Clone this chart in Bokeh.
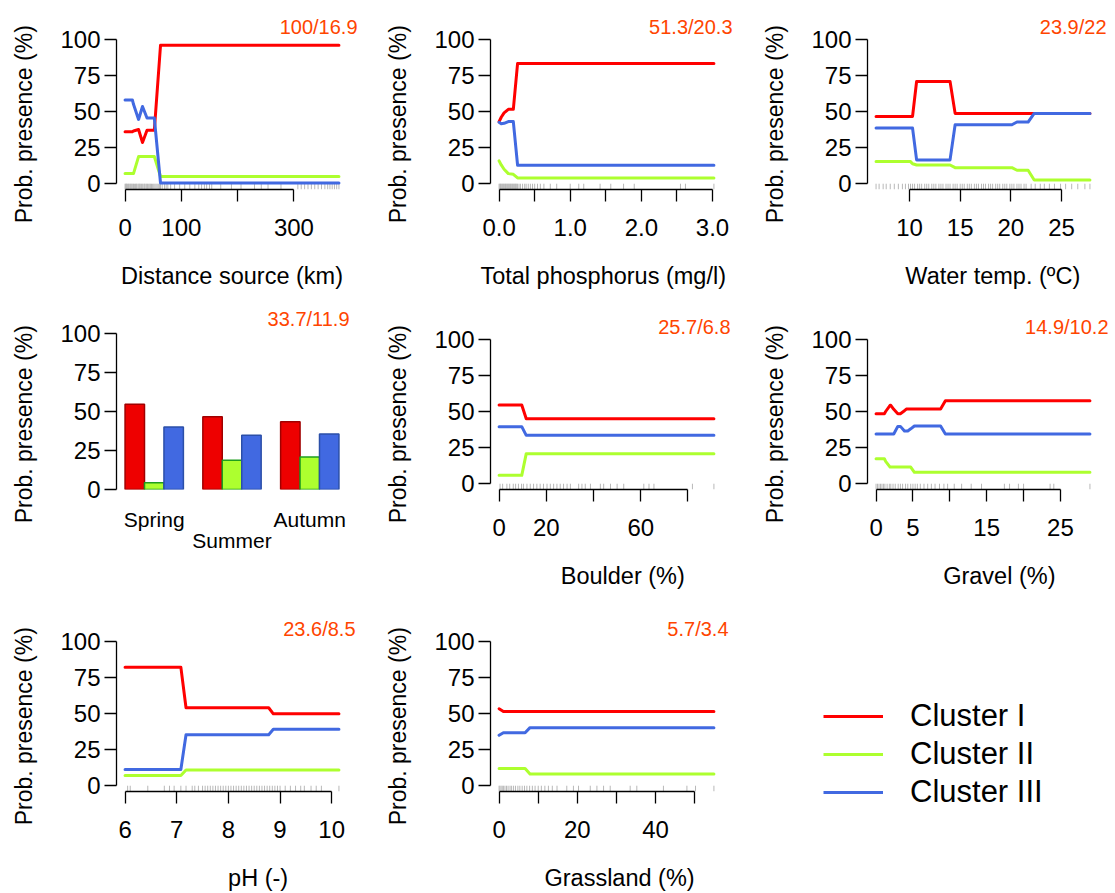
from bokeh.plotting import figure
from bokeh.models import Range1d, FixedTicker, Legend, LegendItem, LinearAxis, Title
from bokeh.layouts import column, row
from bokeh.embed import file_html
from bokeh.resources import INLINE

RED, GREEN, BLUE = "#FF0000", "#ADFF2F", "#4169E1"
ORANGE = "#FF4500"
FONT = "Liberation Sans"
NB = "\u00a0"
cluster_names = ["Cluster I", "Cluster II", "Cluster III"]
y_label = "Prob. presence (%)"

# ---------------- data ----------------
# Panel 1: distance to source (km)
dist_x = [0, 13, 15, 24, 31, 39, 52, 63, 380]
dist_c1 = [36, 36, 36.5, 37.5, 28.5, 37, 37, 95.8, 95.8]
dist_c2 = [7, 7, 7, 18.8, 18.8, 18.8, 18.8, 5, 5]
dist_c3 = [58, 58, 55, 44.5, 53.5, 45.5, 45.5, 0.5, 0.5]
dist_rug = [0, 1, 2.5, 3, 4.5, 6, 7, 8.5, 10, 11, 12.5, 14, 15, 17, 18.5, 20, 21, 23,
            24.5, 26, 27, 29, 30.5, 32, 34, 35, 37, 38.5, 40, 42, 44, 45, 47, 49, 51,
            53, 55, 57, 59, 61, 63, 66, 70, 73, 76, 81, 88, 97, 106, 115, 124, 131,
            136, 141, 145, 150, 154, 170, 189, 206, 230, 242, 254, 277, 307, 313, 319,
            325, 331, 337, 343, 349, 355, 360, 364, 368, 372, 376, 380]
dist_ticks = [0, 100, 200, 300]
dist_labels = ["0", "100", "", "300"]

# Panel 2: total phosphorus (mg/l)
tp_x = [0, 0.03, 0.07, 0.13, 0.20, 0.26, 3.02]
tp_c1 = [43, 46, 49, 51.5, 51.5, 83.3, 83.3]
tp_c2 = [15.8, 13, 10, 7, 6.5, 4, 4]
tp_c3 = [42.5, 41.5, 41.8, 43, 43, 12.8, 12.8]
tp_rug = [0, 0.01, 0.02, 0.03, 0.04, 0.05, 0.06, 0.07, 0.08, 0.09, 0.1, 0.11, 0.12,
          0.13, 0.14, 0.15, 0.16, 0.17, 0.18, 0.19, 0.2, 0.21, 0.22, 0.23, 0.24, 0.25,
          0.26, 0.28, 0.3, 0.33, 0.36, 0.38, 0.41, 0.44, 0.47, 0.5, 0.54, 0.58, 0.63,
          0.72, 0.81, 1.0, 1.12, 1.19, 1.42, 1.57, 1.75, 1.9, 2.55, 2.62, 3.02]
tp_ticks = [0, 0.5, 1.0, 1.5, 2.0, 2.5, 3.0]
tp_labels = ["0.0", "", "1.0", "", "2.0", "", "3.0"]

# Panel 3: water temperature (ºC)
wt_x = [6.7, 10.1, 10.3, 10.7, 14.0, 14.5, 20.1, 20.6, 21.7, 22.3, 27.8]
wt_c1 = [46.6, 46.6, 46.6, 70.8, 70.8, 48.7, 48.7, 48.7, 48.7, 48.7, 48.7]
wt_c2 = [15.3, 15.3, 13.8, 13, 13, 11.1, 11.1, 9.3, 9.3, 2.6, 2.6]
wt_c3 = [38.5, 38.5, 38.5, 16.5, 16.5, 40.8, 40.8, 42.7, 42.7, 48.7, 48.7]
wt_rug = [6.7, 7.0, 7.4, 7.7, 8.1, 8.5, 8.9, 9.3, 9.6, 9.9, 10.1, 10.3, 10.5, 10.8,
          11.0, 11.2, 11.5, 11.7, 11.9, 12.2, 12.4, 12.6, 12.9, 13.1, 13.3, 13.6, 13.8,
          14.0, 14.3, 14.5, 14.7, 15.0, 15.2, 15.4, 15.7, 15.9, 16.1, 16.4, 16.6, 16.8,
          17.1, 17.3, 17.5, 17.8, 18.0, 18.2, 18.5, 18.7, 18.9, 19.2, 19.4, 19.6, 19.9,
          20.1, 20.3, 20.6, 20.8, 21.0, 21.3, 21.5, 22.0, 22.4, 22.9, 23.3, 23.8, 24.3,
          24.9, 25.4, 26.0, 26.6, 27.3, 27.8]
wt_ticks = [10, 15, 20, 25]
wt_labels = ["10", "15", "20", "25"]

# Panel 4: season (bars)
seasons = ["Spring", "Summer", "Autumn"]
season_c1 = [54.7, 46.6, 43.4]
season_c2 = [4.3, 18.7, 20.8]
season_c3 = [40.1, 34.8, 35.6]

# Panel 5: boulder (%)
bo_x = [0, 9.6, 11.5, 91]
bo_c1 = [54.5, 54.5, 45, 45]
bo_c2 = [5.8, 5.8, 20.8, 20.8]
bo_c3 = [39.5, 39.5, 33.5, 33.5]
bo_rug = [0.4, 1.5, 3.3, 4.5, 6, 7, 8.2, 9.5, 10.3, 11.8, 13.2, 14.6, 16, 17.4, 18.8,
          20.3, 21.7, 23.1, 24.5, 25.9, 27.3, 28.8, 30.2, 33.7, 35.1, 36.5, 38.7, 42.9,
          44.3, 47.2, 50, 52.8, 61.3, 63.5, 65.6, 81.9, 91]
bo_ticks = [0, 20, 40, 60, 80]
bo_labels = ["0", "20", "", "60", ""]

# Panel 6: gravel (%)
gr_x = [0, 1.13, 1.3, 1.9, 2.0, 2.4, 2.95, 3.3, 3.85, 4.1, 4.3, 4.7, 5.2, 8.75, 9.4, 29]
gr_c1 = [48.5, 48.5, 50, 54.3, 54.3, 51.5, 48.5, 48.5, 50.5, 51.7, 51.7, 51.7, 51.7, 51.7, 57.5, 57.5]
gr_c2 = [17.3, 17.3, 15.5, 11.5, 11.5, 11.5, 11.5, 11.5, 11.5, 11.5, 11.5, 11.5, 7.9, 7.9, 7.9, 7.9]
gr_c3 = [34.4, 34.4, 34.4, 34.4, 34.4, 34.4, 39.7, 39.7, 36.5, 36.5, 36.5, 38, 40, 40, 34.4, 34.4]
gr_rug = [0, 0.2, 0.4, 0.6, 0.8, 1, 1.2, 1.5, 1.8, 2, 2.3, 2.6, 3, 3.3, 3.6, 4, 4.3,
          4.7, 5, 5.3, 5.6, 6, 6.5, 7, 7.5, 8, 8.6, 9.2, 9.7, 10.6, 11.6, 12.9, 14.3,
          17.4, 18.1, 19.3, 20, 23.6, 24.1, 29]
gr_ticks = [0, 5, 10, 15, 20, 25]
gr_labels = ["0", "5", "", "15", "", "25"]

# Panel 7: pH (-)
ph_x = [6.0, 7.08, 7.18, 8.78, 8.87, 10.14]
ph_c1 = [82.1, 82.1, 54, 54, 49.8, 49.8]
ph_c2 = [7, 7, 10.9, 10.9, 10.9, 10.9]
ph_c3 = [11.2, 11.2, 35.3, 35.3, 39.1, 39.1]
ph_rug = [6.05, 6.1, 6.44, 6.76, 6.86, 6.95, 7.08, 7.18, 7.3, 7.35, 7.42, 7.5, 7.55,
          7.6, 7.65, 7.7, 7.75, 7.8, 7.85, 7.9, 7.95, 8.0, 8.05, 8.1, 8.15, 8.2, 8.25,
          8.3, 8.35, 8.4, 8.45, 8.5, 8.55, 8.6, 8.65, 8.7, 8.75, 8.8, 8.85, 8.9, 8.95,
          9.0, 9.1, 9.2, 9.3, 9.4, 9.47, 9.6, 9.7, 9.8, 10.14]
ph_ticks = [6, 7, 8, 9, 10]
ph_labels = ["6", "7", "8", "9", "10"]

# Panel 8: grassland (%)
gl_x = [0, 1.1, 6.65, 7.9, 54.9]
gl_c1 = [53.3, 51.4, 51.4, 51.4, 51.4]
gl_c2 = [11.9, 11.9, 11.9, 8.1, 8.1]
gl_c3 = [34.9, 36.7, 36.7, 40.2, 40.2]
gl_rug = [0, 0.2, 0.5, 0.8, 1.1, 1.5, 1.9, 2.3, 2.8, 3.2, 3.7, 4.2, 4.8, 5.3, 5.9,
          6.5, 7.1, 7.8, 8.5, 9.2, 10, 10.8, 11.7, 12.6, 13.6, 14.8, 17.3, 19, 20.3,
          23.3, 25, 26.7, 28.4, 33.5, 35.2, 42, 48, 50.2, 54.9]
gl_ticks = [0, 10, 20, 30, 40, 50]
gl_labels = ["0", "", "20", "", "40", ""]

y_ticks = [0, 25, 50, 75, 100]

# ---------------- layout ----------------
COL_W = [370, 375, 370]
COL_L = [116, 120, 122]
COL_FW = [231, 232, 231]
ROW_H = [300, 300, 293]
ROW_T = [33, 33, 35]
FH = 156


def no_align(p):
    try:
        p.frame_align = False
    except Exception:
        pass


def base_fig(c, r, x_range, y_range):
    p = figure(width=COL_W[c], height=ROW_H[r], x_range=x_range, y_range=y_range,
               output_backend="svg", toolbar_location=None, title=None,
               min_border_left=COL_L[c], min_border_right=COL_W[c] - COL_L[c] - COL_FW[c],
               min_border_top=ROW_T[r], min_border_bottom=ROW_H[r] - ROW_T[r] - FH)
    no_align(p)
    p.outline_line_color = None
    p.xgrid.visible = False
    p.ygrid.visible = False
    p.background_fill_color = "white"
    p.border_fill_color = "white"
    return p


def style_axis(ax, ticks, labels):
    ax.ticker = FixedTicker(ticks=ticks)
    ax.bounds = (ticks[0], ticks[-1])
    ax.major_label_overrides = {float(t): l for t, l in zip(ticks, labels)}
    ax.major_tick_out = 12
    ax.major_tick_in = 0
    ax.minor_tick_line_color = None
    ax.axis_line_width = 1.3
    ax.major_tick_line_width = 1.3
    ax.axis_line_color = "black"
    ax.major_tick_line_color = "black"
    ax.major_label_text_font = FONT
    ax.major_label_text_font_size = "24px"
    ax.major_label_text_color = "black"
    ax.axis_label_text_font = FONT
    ax.axis_label_text_font_size = "23.5px"
    ax.axis_label_text_font_style = "normal"
    ax.axis_label_text_color = "black"


def add_title(p, stat, dx, standoff):
    p.add_layout(Title(text=stat, align="right", offset=-dx, standoff=standoff,
                       text_font=FONT, text_font_size="20px", text_font_style="normal",
                       text_color=ORANGE), "above")


def style_y(p):
    style_axis(p.yaxis[0], y_ticks, [str(t) for t in y_ticks])
    p.yaxis.major_label_standoff = 4
    # the reference sets this label a little downward: pad its upper end
    p.yaxis.axis_label = y_label + NB * 4
    p.yaxis.axis_label_text_font_size = "23px"
    p.yaxis.axis_label_standoff = 20


def line_panel(c, r, xs, c1, c2, c3, rug, ticks, labels, stat, stat_dx,
               xlabel, shift):
    lo, hi = min(xs), max(xs)
    pad = 0.04 * (hi - lo)
    p = base_fig(c, r, Range1d(lo - pad, hi + pad), Range1d(-4, 104))
    style_axis(p.xaxis[0], ticks, labels)
    p.xaxis.major_label_standoff = 17
    p.xaxis.axis_label = (NB * shift if shift > 0 else "") + xlabel + (NB * -shift if shift < 0 else "")
    p.xaxis.axis_label_standoff = 24
    style_y(p)
    p.segment(x0=rug, x1=rug, y0=[-4] * len(rug), y1=[0] * len(rug),
              line_color="#B8B8B8", line_width=1)
    for vals, col in ((c1, RED), (c2, GREEN), (c3, BLUE)):
        p.line(xs, vals, line_color=col, line_width=3, line_join="round", line_cap="round")
    add_title(p, stat, stat_dx, -8)
    return p


p1 = line_panel(0, 0, dist_x, dist_c1, dist_c2, dist_c3, dist_rug, dist_ticks, dist_labels,
                "100/16.9", 10, "Distance source (km)", 0)
p2 = line_panel(1, 0, tp_x, tp_c1, tp_c2, tp_c3, tp_rug, tp_ticks, tp_labels,
                "51.3/20.3", 10, "Total phosphorus (mg/l)", -1)
p3 = line_panel(2, 0, wt_x, wt_c1, wt_c2, wt_c3, wt_rug, wt_ticks, wt_labels,
                "23.9/22", 8, "Water temp. (ºC)", 3)
p5 = line_panel(1, 1, bo_x, bo_c1, bo_c2, bo_c3, bo_rug, bo_ticks, bo_labels,
                "25.7/6.8", 8, "Boulder (%)", 5)
p6 = line_panel(2, 1, gr_x, gr_c1, gr_c2, gr_c3, gr_rug, gr_ticks, gr_labels,
                "14.9/10.2", 10, "Gravel (%)", 5)
p7 = line_panel(0, 2, ph_x, ph_c1, ph_c2, ph_c3, ph_rug, ph_ticks, ph_labels,
                "23.6/8.5", 8, "pH (-)", 8)
p8 = line_panel(1, 2, gl_x, gl_c1, gl_c2, gl_c3, gl_rug, gl_ticks, gl_labels,
                "5.7/3.4", 6, "Grassland (%)", 4)

# ---- bar panel (season) ----
p4 = base_fig(0, 1, Range1d(0.56, 12.44), Range1d(0, 100))
style_y(p4)
bar_fill = ["#EE0000", GREEN, BLUE]
bar_edge = ["#A00000", "#1E9E1E", "#2B4FA8"]
for k, vals in enumerate((season_c1, season_c2, season_c3)):
    xs = [1.5 + 4 * g + k for g in range(len(seasons))]
    p4.vbar(x=xs, top=vals, bottom=0, width=1, fill_color=bar_fill[k],
            line_color=bar_edge[k], line_width=1.5)
centers = [2.5 + 4 * g for g in range(len(seasons))]


def cat_axis(ax, idx, standoff):
    ax.ticker = FixedTicker(ticks=[centers[i] for i in idx])
    ax.major_label_overrides = {float(centers[i]): seasons[i] for i in idx}
    ax.axis_line_color = None
    ax.major_tick_line_color = None
    ax.minor_tick_line_color = None
    ax.major_tick_out = 0
    ax.major_tick_in = 0
    ax.major_label_standoff = standoff
    ax.major_label_text_font = FONT
    ax.major_label_text_font_size = "21px"
    ax.major_label_text_color = "black"


cat_axis(p4.xaxis[0], [0, 2], 18)
ax_b = LinearAxis()
cat_axis(ax_b, [1], -5)
p4.add_layout(ax_b, "below")
add_title(p4, "33.7/11.9", 2, 8)

# ---- legend panel ----
p9 = figure(width=COL_W[2], height=ROW_H[2], x_range=Range1d(0, 1), y_range=Range1d(0, 1),
            output_backend="svg", toolbar_location=None, title=None,
            x_axis_type=None, y_axis_type=None,
            min_border_left=78, min_border_right=0, min_border_top=97, min_border_bottom=0)
no_align(p9)
p9.outline_line_color = None
p9.xgrid.visible = False
p9.ygrid.visible = False
items = []
nan = float("nan")
for name, col in zip(cluster_names, (RED, GREEN, BLUE)):
    rr = p9.line(x=[nan], y=[nan], line_color=col, line_width=3)
    items.append(LegendItem(label=name, renderers=[rr]))
legend = Legend(items=items, location="top_left", glyph_width=60, glyph_height=38,
                label_standoff=27, label_text_font=FONT, label_text_font_size="31px",
                label_text_color="black", label_height=38, spacing=0, padding=0, margin=0,
                border_line_color=None, background_fill_alpha=0)
p9.add_layout(legend)

layout = column(row(p1, p2, p3), row(p4, p5, p6), row(p7, p8, p9))

open("out.html", "w").write(file_html(layout, INLINE))
